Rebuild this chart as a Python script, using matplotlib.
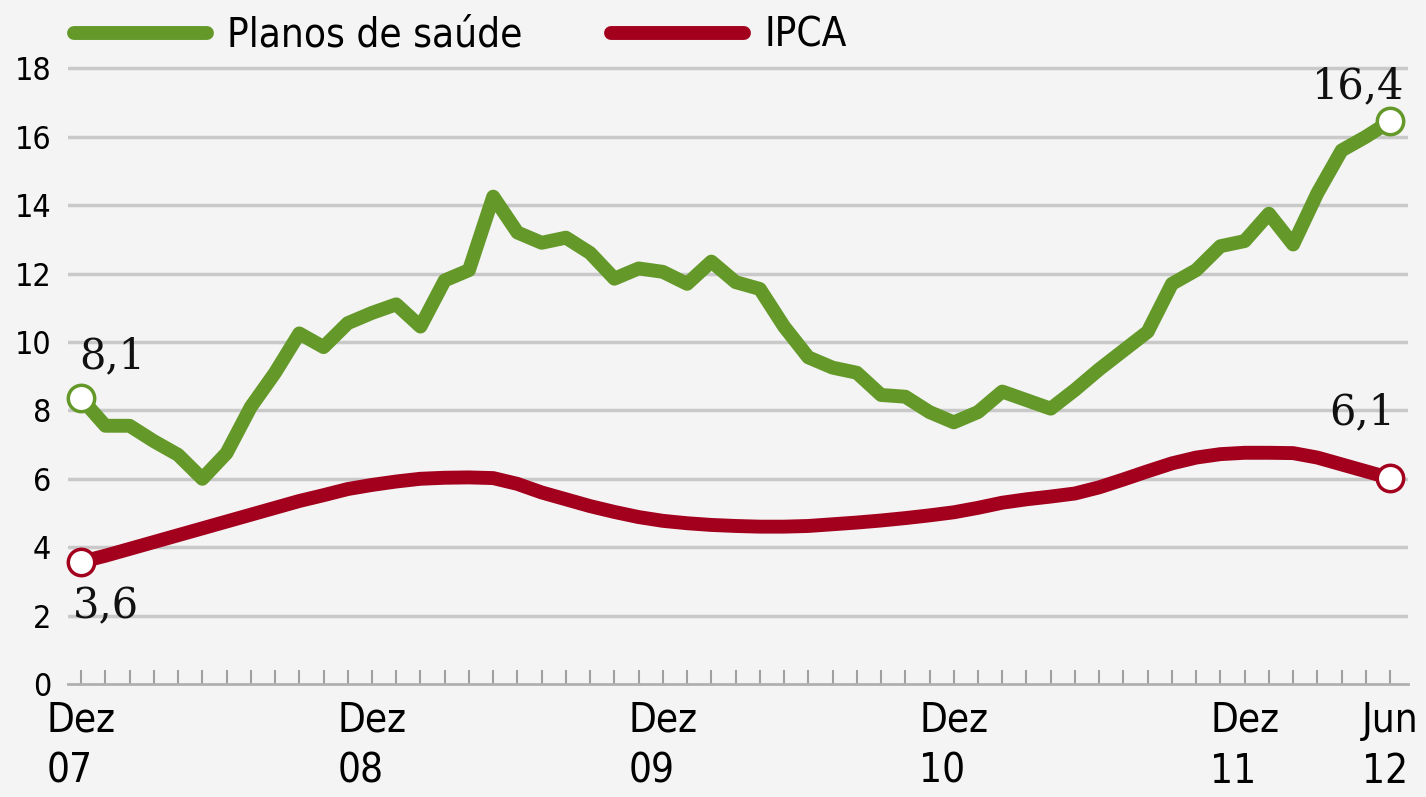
import numpy as np
import matplotlib
matplotlib.use("Agg")
import matplotlib.pyplot as plt
from matplotlib.ticker import FixedLocator, MultipleLocator

# Data (monthly, Dez 07 .. Jun 12)
#-----------------------------------
planos = [8.35, 7.55, 7.55, 7.1, 6.7, 6.0, 6.75, 8.1, 9.1, 10.25,
          9.85, 10.55, 10.85, 11.1, 10.45, 11.8, 12.1, 14.25, 13.2, 12.9,
          13.05, 12.6, 11.85, 12.15, 12.05, 11.7, 12.35, 11.75, 11.55, 10.45,
          9.55, 9.25, 9.1, 8.45, 8.4, 7.95, 7.65, 7.95, 8.55, 8.3,
          8.05, 8.6, 9.2, 9.75, 10.3, 11.7, 12.1, 12.8, 12.95, 13.75,
          12.85, 14.35, 15.6, 16.0, 16.45]
ipca = [3.57, 3.75, 3.95, 4.15, 4.35, 4.55, 4.75, 4.95, 5.15, 5.35,
        5.52, 5.7, 5.82, 5.92, 6.0, 6.03, 6.04, 6.02, 5.85, 5.6,
        5.4, 5.2, 5.03, 4.88, 4.77, 4.7, 4.65, 4.62, 4.6, 4.6,
        4.62, 4.67, 4.72, 4.78, 4.85, 4.93, 5.02, 5.15, 5.3, 5.4,
        5.48, 5.57, 5.75, 5.98, 6.22, 6.45, 6.62, 6.72, 6.76, 6.76,
        6.75, 6.62, 6.42, 6.22, 6.02]
months = np.arange(len(planos))

tick_pos = [0, 12, 24, 36, 48, 54]
tick_labels = ["Dez\n07", "Dez\n08", "Dez\n09", "Dez\n10", "Dez\n11", "Jun\n12"]
y_ticks = [0, 2, 4, 6, 8, 10, 12, 14, 16, 18]

# end labels
planos_first, planos_last = "8,1", "16,4"
ipca_first, ipca_last = "3,6", "6,1"

green = "#64992a"
red = "#a3001e"
grid_col = "#c9c9c9"

sans = ["DejaVu Sans"]
serif = ["DejaVu Serif"]

# Plot
#-----------------------------------
fig = plt.figure(figsize=(14.26, 7.97), dpi=100)
fig.patch.set_facecolor("#f4f4f4")
ax = fig.add_axes([0.0477, 0.1418, 0.9397, 0.7896])
ax.set_facecolor("none")

ax.set_xlim(-0.54, 54.74)
ax.set_ylim(0, 18.4)

for v in y_ticks[1:]:
    ax.axhline(v, color=grid_col, linewidth=2.5, zorder=1)

line_g, = ax.plot(months, planos, color=green, linewidth=10,
                  solid_joinstyle="round", solid_capstyle="round", zorder=3,
                  label="Planos de saúde")
line_r, = ax.plot(months, ipca, color=red, linewidth=10,
                  solid_joinstyle="round", solid_capstyle="round", zorder=3,
                  label="IPCA")

# open circles at the ends
for series, col in [(planos, green), (ipca, red)]:
    ax.plot([months[0], months[-1]], [series[0], series[-1]], "o",
            markersize=19, markerfacecolor="white", markeredgecolor=col,
            markeredgewidth=2.5, zorder=4, clip_on=False)

lab_kw = dict(fontsize=30, family=serif, color="#111111", textcoords="offset points")
ax.annotate(planos_first, (months[0], planos[0]), xytext=(-1, 15), ha="left", va="bottom", **lab_kw)
ax.annotate(planos_last, (months[-1], planos[-1]), xytext=(10, 10), ha="right", va="bottom", **lab_kw)
ax.annotate(ipca_first, (months[0], ipca[0]), xytext=(-6, -17), ha="left", va="top", **lab_kw)
ax.annotate(ipca_last, (months[-1], ipca[-1]), xytext=(4, 32), ha="right", va="bottom", **lab_kw)

# axes styling
for s in ["top", "right", "left"]:
    ax.spines[s].set_visible(False)
ax.spines["bottom"].set_color("#b0b0b0")
ax.spines["bottom"].set_linewidth(2)

ax.xaxis.set_major_locator(FixedLocator(tick_pos))
ax.set_xticklabels(tick_labels, family=sans, fontsize=29, fontstretch="condensed",
                   linespacing=1.35, multialignment="left")
ax.xaxis.set_minor_locator(MultipleLocator(1))
ax.tick_params(axis="x", which="both", direction="in", length=10, width=1.5,
               color="#a0a0a0", pad=12)

ax.set_yticks(y_ticks)
ax.set_yticklabels([str(v) for v in y_ticks], family=sans, fontsize=23,
                   fontstretch="condensed")
ax.tick_params(axis="y", length=0, pad=12)

leg = ax.legend(handles=[line_g, line_r], loc="lower left",
                bbox_to_anchor=(0.052, 0.93), bbox_transform=fig.transFigure,
                ncol=2, frameon=False,
                prop={"family": sans, "size": 29, "stretch": "condensed"},
                handlelength=3.3, handletextpad=0.5, columnspacing=2.2,
                borderaxespad=0, borderpad=0)

fig.savefig("out.png", dpi=100, facecolor=fig.get_facecolor())
